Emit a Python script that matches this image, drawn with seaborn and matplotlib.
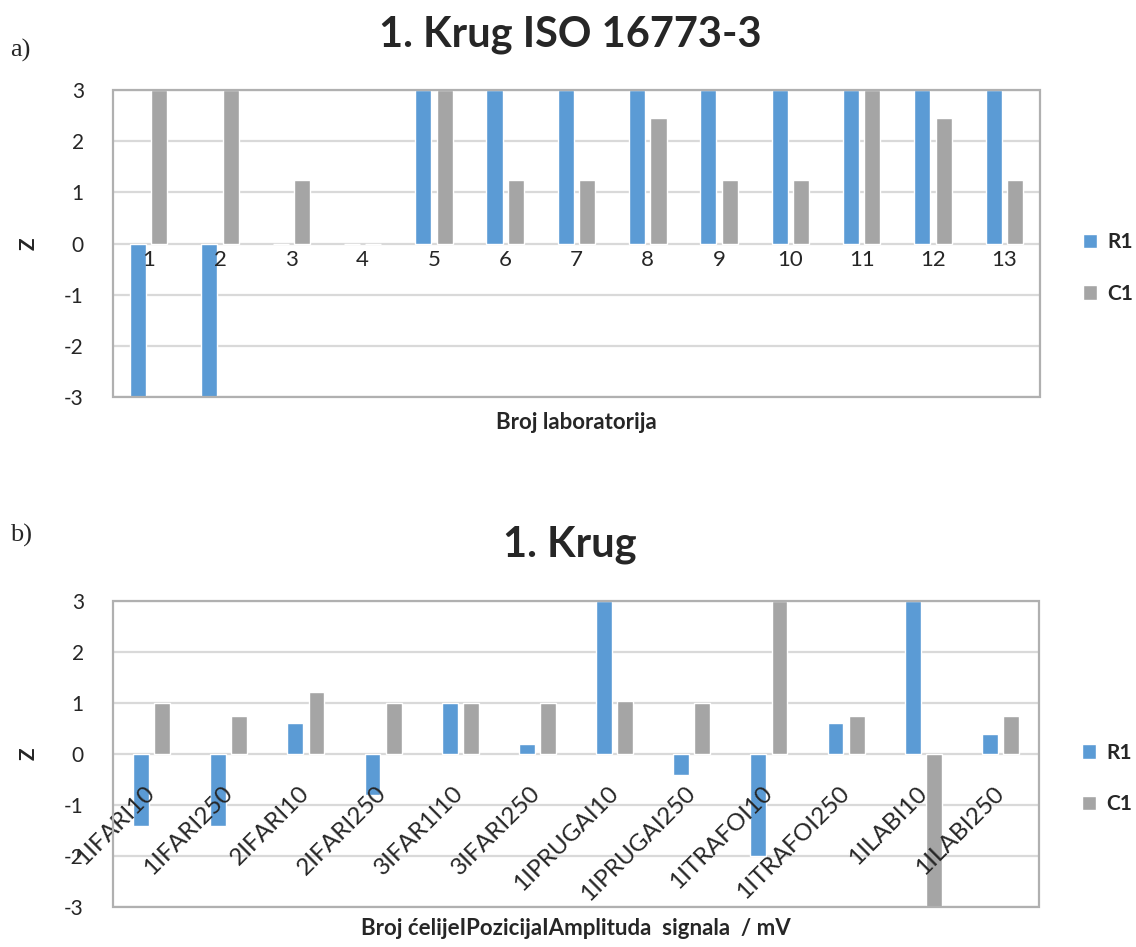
import numpy as np
import pandas as pd
import matplotlib
matplotlib.use('Agg')
import matplotlib.pyplot as plt
from matplotlib.patches import Rectangle
import seaborn as sns

# podaci - a) 1. Krug ISO 16773-3
labs = [str(i) for i in range(1, 14)]
r1_a = [-3, -3, 0, 0, 3, 3, 3, 3, 3, 3, 3, 3, 3]
c1_a = [3, 3, 1.25, 0, 3, 1.25, 1.25, 2.45, 1.25, 1.25, 3, 2.45, 1.25]

# podaci - b) 1. Krug
cells = ['1IFARI10', '1IFARI250', '2IFARI10', '2IFARI250', '3IFAR1I10', '3IFARI250',
         '1IPRUGAI10', '1IPRUGAI250', '1ITRAFOI10', '1ITRAFOI250', '1ILABI10', '1ILABI250']
r1_b = [-1.42, -1.42, 0.6, -0.8, 1.0, 0.2, 3, -0.42, -2.0, 0.6, 3, 0.4]
c1_b = [1.0, 0.75, 1.22, 1.0, 1.0, 1.0, 1.03, 1.0, 3, 0.75, -3, 0.75]

series = ['R1', 'C1']
colors = ['#5B9BD5', '#A5A5A5']
yticks = [-3, -2, -1, 0, 1, 2, 3]

sns.set_style('white')
plt.rcParams['font.family'] = ['Lato', 'DejaVu Sans']

W, H = 1136, 947
fig = plt.figure(figsize=(W / 100, H / 100), dpi=100)


def long_df(cats, r1, c1):
    return pd.DataFrame({
        'cat': cats * 2,
        'z': r1 + c1,
        'serija': ['R1'] * len(cats) + ['C1'] * len(cats),
    })


def draw_panel(rect, cats, r1, c1, xlabel, rot, lab_size, pad, bw, xlab_y):
    ax = fig.add_axes(rect)
    df = long_df(cats, r1, c1)
    sns.barplot(data=df, x='cat', y='z', hue='serija', order=cats, hue_order=series,
                palette=colors, width=bw, gap=0.25, errorbar=None, saturation=1,
                ax=ax)
    ax.set_ylim(-3, 3)
    ax.set_yticks(yticks)
    ax.set_yticklabels([str(t) for t in yticks], fontsize=15)
    ax.grid(axis='y', color='#d9d9d9', lw=1.6, zorder=0)
    ax.set_axisbelow(True)
    ax.xaxis.set_zorder(4)  # oznake kategorija iznad stupaca
    for s in ['top', 'left', 'right']:
        ax.spines[s].set_visible(False)
    ax.spines['bottom'].set_position(('data', 0))
    ax.spines['bottom'].set_visible(False)
    ax.add_patch(Rectangle((0, 0), 1, 1, transform=ax.transAxes, fill=False,
                           edgecolor='#b0b0b0', lw=1.6, clip_on=False, zorder=5))
    ax.tick_params(axis='both', length=0)
    ax.tick_params(axis='y', pad=21)
    if rot:
        ax.set_xticks(range(len(cats)))
        ax.set_xticklabels(cats, rotation=45, ha='right', va='center',
                           rotation_mode='anchor', fontsize=lab_size)
        ax.tick_params(axis='x', pad=pad)
    else:
        ax.tick_params(axis='x', labelsize=lab_size, pad=pad)
    ax.set_xlabel(xlabel, fontsize=16, fontweight='bold')
    ax.xaxis.set_label_coords(0.5, xlab_y)
    ax.set_ylabel('Z', fontsize=15, fontweight='bold')
    ax.yaxis.set_label_coords(-0.08, 0.5)
    handles, labels = ax.get_legend_handles_labels()
    ax.legend(handles, labels, loc='center left', bbox_to_anchor=(1.046, 0.42),
              frameon=False, borderpad=0, borderaxespad=0,
              handlelength=0.7, handleheight=0.7, handletextpad=0.5,
              labelspacing=1.5, prop={'weight': 'bold', 'size': 15})
    return ax


ax_a = draw_panel([113 / W, 1 - 397 / H, 927 / W, 307 / H], labs, r1_a, c1_a,
                  'Broj laboratorija', False, 16, 5, 0.6, -0.05)
ax_b = draw_panel([113 / W, 1 - 907 / H, 926 / W, 306 / H], cells, r1_b, c1_b,
                  'Broj ćelijeIPozicijaIAmplituda  signala  / mV', True, 17.5, 26, 0.55,
                  -0.035)

fig.text(570 / W, 1 - 35 / H, '1. Krug ISO 16773-3', ha='center', va='center',
         fontsize=30, fontweight='bold')
fig.text(570 / W, 1 - 545 / H, '1. Krug', ha='center', va='center',
         fontsize=30, fontweight='bold')
fig.text(10 / W, 1 - 50 / H, 'a)', ha='left', va='center', fontsize=19,
         family=['Liberation Serif', 'DejaVu Serif'])
fig.text(10 / W, 1 - 535 / H, 'b)', ha='left', va='center', fontsize=19,
         family=['Liberation Serif', 'DejaVu Serif'])

fig.savefig('out.png', dpi=100)
